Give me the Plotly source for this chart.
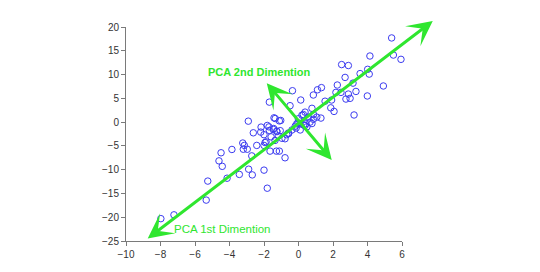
import plotly.graph_objects as go

# data points
x_vals = [5.40, 5.50, 5.94, 4.14, 2.50, 2.89, 4.01, 4.10, 3.57, 2.70,
          3.16, 2.25, 4.92, 1.10, 1.33, -0.35, 0.86, 2.17, 2.46, 3.33,
          2.89, 2.99, 2.75, 3.99, 0.13, 1.54, 1.92, -0.49, 1.87, 2.06,
          0.78, 0.38, 0.28, 0.87, 3.22, 0.57, 1.06, 1.30, 0.86, 0.67,
          -0.01, 0.09, 0.38, -1.69, -0.14, -2.91, -1.42, -1.03, -2.17, -1.71,
          -1.69, -2.62, -2.19, -2.00, -1.26, -1.59, -1.17, -0.68, -0.59, -0.78,
          -1.36, -1.88, -2.42, -2.00, -3.23, -3.14, -3.20, -2.97, -3.86, -4.49,
          -1.65, -1.28, -1.11, -2.71, -0.78, -4.61, -4.42, -2.89, -2.00, -3.43,
          -2.68, -4.14, -5.26, -1.81, -5.35, -7.22, -7.98, 0.20, 0.78, -0.03,
          0.30, -0.19, -0.38, -0.57, -0.96, -1.25, -1.44, -1.06, 0.10, 0.49,
          -1.35, -1.11, 0.42, -0.10, -1.81, -1.46, -1.94]
y_vals = [17.7, 14.1, 13.2, 13.9, 12.1, 11.9, 11.1, 10.1, 10.2, 9.4,
          8.2, 7.8, 7.6, 6.8, 7.25, 6.6, 5.7, 6.25, 6.25, 6.45,
          5.9, 5.0, 4.85, 5.5, 4.65, 4.4, 4.65, 3.45, 3.0, 2.25,
          2.9, 2.1, 1.6, 1.6, 1.5, 1.05, 1.05, 0.85, 0.6, 0.0,
          0.7, -0.35, -0.7, 4.2, -1.25, 0.2, 0.9, 0.35, -1.05, -1.0,
          -1.75, -2.25, -2.1, -2.65, -1.9, -3.1, -2.9, -2.65, -2.3, -3.5,
          -3.85, -4.15, -4.9, -4.9, -4.4, -4.9, -5.7, -5.7, -5.75, -6.45,
          -6.1, -6.1, -6.1, -7.1, -7.5, -8.15, -9.3, -9.9, -10.1, -11.0,
          -11.1, -11.8, -12.4, -13.9, -16.4, -19.5, -20.3, 1.45, -0.3, -0.15,
          -0.6, -0.85, -1.65, -2.4, -3.4, -2.0, -1.35, -1.8, -1.65, -0.98,
          0.75, 0.25, -0.35, -0.35, -0.7, -1.55, -4.3]

x_ticks = [-10, -8, -6, -4, -2, 0, 2, 4, 6]
y_ticks = [-25, -20, -15, -10, -5, 0, 5, 10, 15, 20]

# principal direction arrows (endpoints in data units)
pc1_start = (-8.74, -24.46)
pc1_end = (7.87, 21.5)
pc2_start = (-1.84, 8.19)
pc2_end = (2.0, -8.27)
label_pc1 = "PCA 1st Dimention"
label_pc2 = "PCA 2nd Dimention"

GREEN = "#2fe62f"

fig = go.Figure()
fig.add_trace(go.Scatter(
    x=x_vals, y=y_vals, mode="markers",
    marker=dict(symbol="circle-open", size=6.5, color="#3c3cf0",
                line=dict(width=1, color="#3c3cf0")),
    showlegend=False, hoverinfo="skip", cliponaxis=False))

for s, e in [(pc1_start, pc1_end), (pc2_start, pc2_end)]:
    fig.add_annotation(x=s[0], y=s[1], ax=e[0], ay=e[1],
                       xref="x", yref="y", axref="x", ayref="y",
                       text="", showarrow=True, arrowhead=3, arrowside="end+start",
                       arrowsize=1.4, arrowwidth=3, arrowcolor=GREEN)

fig.add_annotation(x=-2.26, y=10.6, xref="x", yref="y", text="<b>" + label_pc2 + "</b>",
                   showarrow=False, font=dict(family="Liberation Sans", size=11, color=GREEN))
fig.add_annotation(x=-4.40, y=-22.4, xref="x", yref="y", text=label_pc1,
                   showarrow=False, font=dict(family="Liberation Sans", size=11.5, color=GREEN))

axis_common = dict(showgrid=False, zeroline=False, showline=True, linecolor="#7a7a7a",
                   linewidth=1, ticks="outside", ticklen=4, tickcolor="#7a7a7a",
                   tickfont=dict(family="Liberation Sans", size=10, color="#333333"),
                   mirror=False)
fig.update_xaxes(range=[-10, 6], tickvals=x_ticks, **axis_common)
fig.update_yaxes(range=[-25, 20], tickvals=y_ticks, **axis_common)

fig.update_layout(width=540, height=272, margin=dict(l=126, r=138, t=27, b=29),
                  paper_bgcolor="white", plot_bgcolor="white")

fig.write_html("out.html")
